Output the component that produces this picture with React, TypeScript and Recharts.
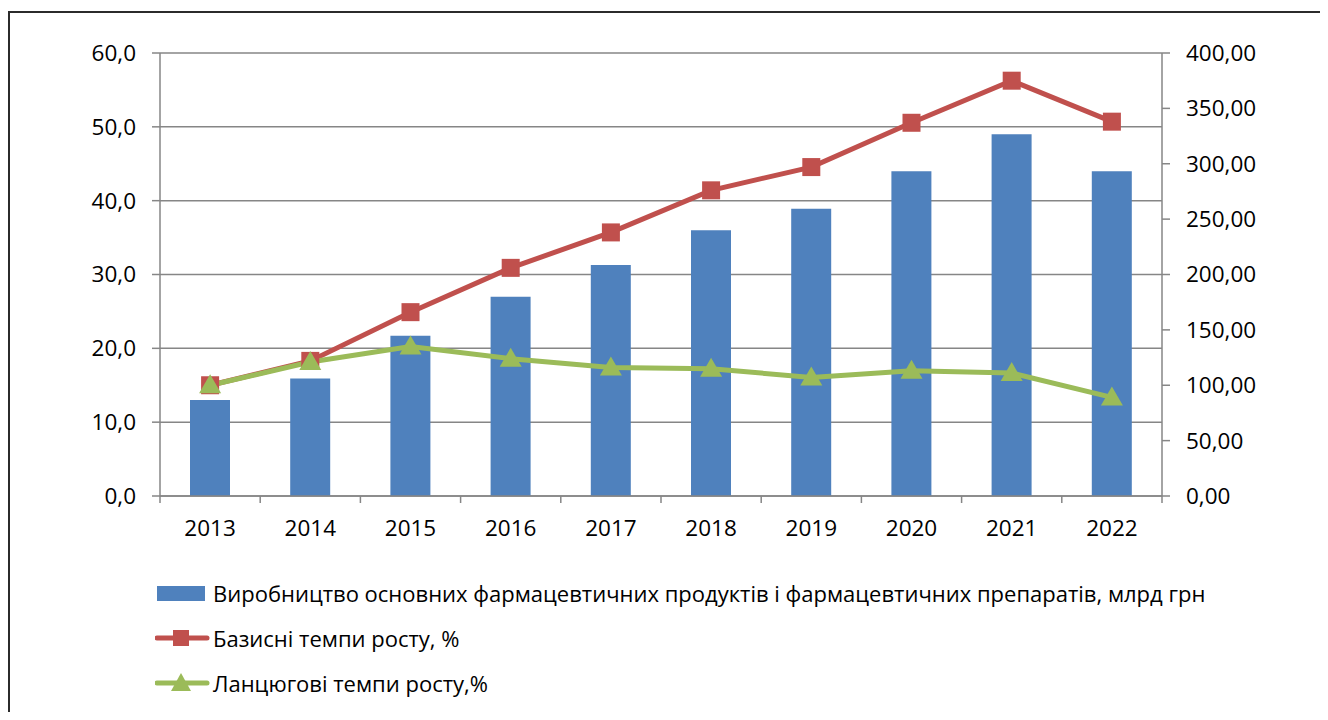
import React from "react";
import {
  ComposedChart,
  Bar,
  Line,
  XAxis,
  YAxis,
  CartesianGrid,
} from "recharts";

const YEARS = ["2013", "2014", "2015", "2016", "2017", "2018", "2019", "2020", "2021", "2022"];
const PRODUCTION = [13.0, 15.9, 21.7, 27.0, 31.3, 36.0, 38.9, 44.0, 49.0, 44.0];
const BASE_GROWTH = [100, 122, 166, 206, 238, 276, 297, 337, 375, 338];
const CHAIN_GROWTH = [100, 121, 135, 124, 116, 115, 107, 113, 111, 89];

const LEFT_TICKS = [0, 10, 20, 30, 40, 50, 60];
const RIGHT_TICKS = [0, 50, 100, 150, 200, 250, 300, 350, 400];

const NAMES = {
  production: "Виробництво основних фармацевтичних продуктів і фармацевтичних препаратів, млрд грн",
  base: "Базисні темпи росту, %",
  chain: "Ланцюгові темпи росту,%",
};

const BLUE = "#4F81BD";
const RED = "#C0504D";
const GREEN = "#9BBB59";
const GRID = "#868686";
const FONT = "'Open Sans', 'Noto Sans', sans-serif";

const CHART_W = 1328;
const CHART_H = 720;
const MARGIN = { top: 53, left: 100, right: 86, bottom: 184 };
const LEFT_W = 60;
const RIGHT_W = 80;
// width of one category band, used for the between-category tick marks
const BAND = (CHART_W - MARGIN.left - MARGIN.right - LEFT_W - RIGHT_W) / YEARS.length;
const X_TICK_SIZE = 7;
const X_TICK_MARGIN = 17;

const data = YEARS.map((year, i) => ({
  year,
  production: PRODUCTION[i],
  base: BASE_GROWTH[i],
  chain: CHAIN_GROWTH[i],
}));

const SquareDot = (props: any) => {
  const { cx, cy } = props;
  if (cx == null || cy == null) return null;
  return <rect x={cx - 9} y={cy - 9} width={18} height={18} fill={RED} />;
};

const TriangleDot = (props: any) => {
  const { cx, cy } = props;
  if (cx == null || cy == null) return null;
  return (
    <polygon
      points={`${cx},${cy - 11} ${cx + 11},${cy + 8} ${cx - 11},${cy + 8}`}
      fill={GREEN}
    />
  );
};

const YearTick = (props: any) => {
  const { x, y, payload, index } = props;
  const axisY = y - X_TICK_SIZE - X_TICK_MARGIN;
  return (
    <g>
      <line x1={x - BAND / 2} y1={axisY} x2={x - BAND / 2} y2={axisY + X_TICK_SIZE} stroke={GRID} strokeWidth={1.5} />
      {index === YEARS.length - 1 && (
        <line x1={x + BAND / 2} y1={axisY} x2={x + BAND / 2} y2={axisY + X_TICK_SIZE} stroke={GRID} strokeWidth={1.5} />
      )}
      <text x={x} y={y} dy="0.71em" textAnchor="middle" fill="#000" fontSize={22.5} fontFamily={FONT}>
        {payload.value}
      </text>
    </g>
  );
};

const LegendIcon = ({ kind }: { kind: string }) => {
  if (kind === "production") {
    return (
      <svg width={56} height={22}>
        <rect x={2} y={4} width={48} height={15} fill={BLUE} />
      </svg>
    );
  }
  const color = kind === "base" ? RED : GREEN;
  return (
    <svg width={56} height={22}>
      <line x1={2} y1={11} x2={52} y2={11} stroke={color} strokeWidth={5} strokeLinecap="round" />
      {kind === "base" ? (
        <rect x={18} y={3} width={16} height={16} fill={color} />
      ) : (
        <polygon points="26,1 36,19 16,19" fill={color} />
      )}
    </svg>
  );
};

const fmt1 = (v: number) => v.toFixed(1).replace(".", ",");
const fmt2 = (v: number) => v.toFixed(2).replace(".", ",");

export default function App() {
  const tickStyle = { fill: "#000", fontSize: 22.5, fontFamily: FONT };
  return (
    <div style={{ position: "relative", width: CHART_W, height: CHART_H, margin: -8, background: "#fff", overflow: "hidden" }}>
      <div
        style={{
          position: "absolute",
          left: 8,
          top: 11,
          width: 1400,
          height: 800,
          border: "2px solid #2b2b2b",
        }}
      />
      <ComposedChart
        width={CHART_W}
        height={CHART_H}
        data={data}
        margin={MARGIN}
        style={{ position: "absolute", left: 0, top: 0 }}
      >
        <CartesianGrid yAxisId="left" vertical={false} stroke={GRID} strokeWidth={1.5} />
        <XAxis
          dataKey="year"
          tickLine={false}
          axisLine={{ stroke: GRID, strokeWidth: 1.5 }}
          tick={<YearTick />}
          tickSize={X_TICK_SIZE}
          tickMargin={X_TICK_MARGIN}
          height={40}
          interval={0}
        />
        <YAxis
          yAxisId="left"
          domain={[0, 60]}
          ticks={LEFT_TICKS}
          tickFormatter={fmt1}
          tick={tickStyle}
          tickSize={8}
          tickMargin={16}
          width={LEFT_W}
          axisLine={{ stroke: GRID, strokeWidth: 1.5 }}
          tickLine={{ stroke: GRID, strokeWidth: 1.5 }}
          interval={0}
        />
        <YAxis
          yAxisId="right"
          orientation="right"
          domain={[0, 400]}
          ticks={RIGHT_TICKS}
          tickFormatter={fmt2}
          tick={tickStyle}
          tickSize={8}
          tickMargin={16}
          width={RIGHT_W}
          axisLine={{ stroke: GRID, strokeWidth: 1.5 }}
          tickLine={{ stroke: GRID, strokeWidth: 1.5 }}
          interval={0}
        />
        <Bar
          yAxisId="left"
          dataKey="production"
          name={NAMES.production}
          fill={BLUE}
          barSize={40}
          isAnimationActive={false}
        />
        <Line
          yAxisId="right"
          dataKey="base"
          name={NAMES.base}
          stroke={RED}
          strokeWidth={5}
          dot={<SquareDot />}
          activeDot={false}
          isAnimationActive={false}
        />
        <Line
          yAxisId="right"
          dataKey="chain"
          name={NAMES.chain}
          stroke={GREEN}
          strokeWidth={5}
          dot={<TriangleDot />}
          activeDot={false}
          isAnimationActive={false}
        />
      </ComposedChart>
      <div style={{ position: "absolute", left: 155, top: 570, fontFamily: FONT, fontSize: 22, color: "#000" }}>
        {(["production", "base", "chain"] as const).map((k) => (
          <div key={k} style={{ display: "flex", alignItems: "center", height: 45 }}>
            <LegendIcon kind={k} />
            <span style={{ marginLeft: 2, whiteSpace: "nowrap", lineHeight: "22px" }}>{NAMES[k]}</span>
          </div>
        ))}
      </div>
    </div>
  );
}
